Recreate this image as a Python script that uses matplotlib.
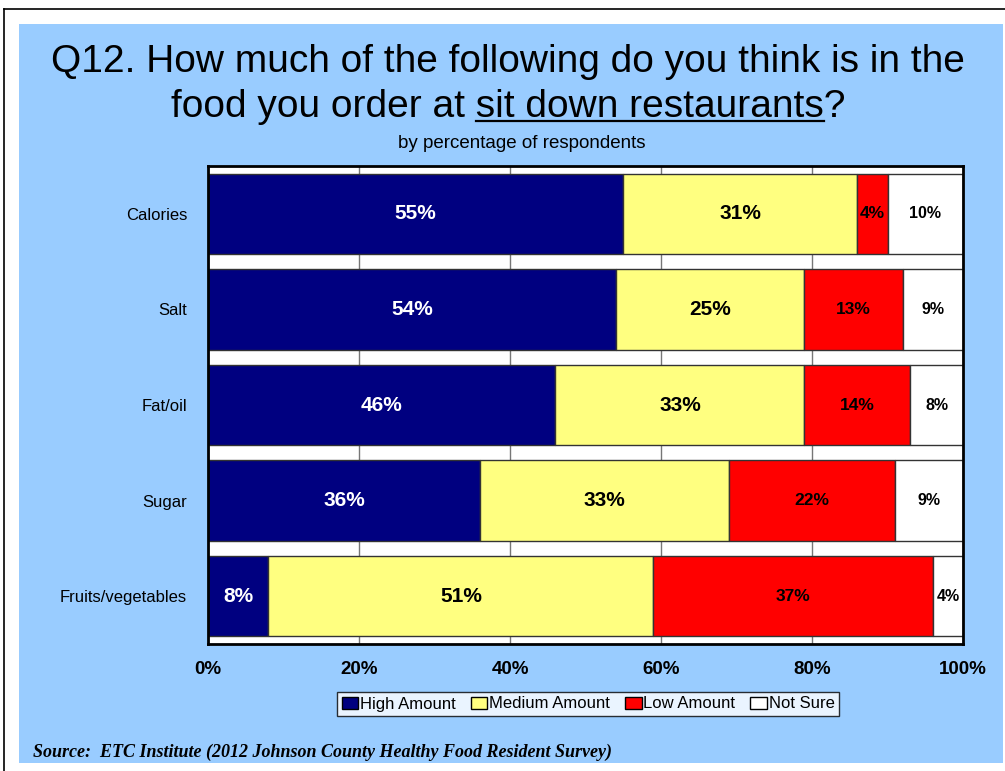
import matplotlib.pyplot as plt
from matplotlib.patches import Rectangle
from matplotlib.lines import Line2D

plt.rcParams["font.family"] = ["Liberation Sans", "DejaVu Sans"]

# Survey results (percent of respondents)
categories = ["Calories", "Salt", "Fat/oil", "Sugar", "Fruits/vegetables"]
series_names = ["High Amount", "Medium Amount", "Low Amount", "Not Sure"]
high = [55, 54, 46, 36, 8]
medium = [31, 25, 33, 33, 51]
low = [4, 13, 14, 22, 37]
not_sure = [10, 9, 8, 9, 4]
x_ticks = [0, 20, 40, 60, 80, 100]
x_tick_labels = ["0%", "20%", "40%", "60%", "80%", "100%"]

colors = ["#000080", "#FFFF80", "#FF0000", "#FFFFFF"]
label_colors = ["white", "black", "black", "black"]
label_sizes = [15, 15, 12.5, 11.5]

W, H = 1005, 771
fig = plt.figure(figsize=(W / 100, H / 100), dpi=100)
fig.patch.set_facecolor("white")


def fx(px):
    return px / W


def fy(py):
    return 1 - py / H


# outer frame and blue panel
fig.add_artist(Line2D([fx(4), 1], [fy(9), fy(9)], color="black", lw=1.2))
fig.add_artist(Line2D([fx(4), fx(4)], [fy(9), 0], color="black", lw=1.2))
fig.add_artist(Rectangle((fx(19), fy(763)), fx(1003) - fx(19), fy(24) - fy(763),
                         facecolor="#99CCFF", edgecolor="none", zorder=0))

ax = fig.add_axes([fx(208), fy(644), fx(963) - fx(208), fy(166) - fy(644)])
ax.set_facecolor("white")

ypos = list(range(len(categories)))
data = [high, medium, low, not_sure]
left = [0] * len(categories)
for name, vals, c, lc, fs in zip(series_names, data, colors, label_colors, label_sizes):
    ax.barh(ypos, vals, left=left, height=0.84, color=c, edgecolor="#333333",
            linewidth=1.0, label=name, zorder=2)
    for y, v, l0 in zip(ypos, vals, left):
        cx = min(l0 + v / 2, (l0 + 100) / 2)
        ax.text(cx, y, f"{v}%", ha="center", va="center", color=lc,
                fontsize=fs, fontweight="bold", zorder=3)
    left = [a + b for a, b in zip(left, vals)]

ax.set_xlim(0, 100)
ax.set_ylim(4.5, -0.5)
ax.set_xticks(x_ticks)
ax.set_xticklabels(x_tick_labels, fontsize=13.5, fontweight="bold")
ax.set_yticks(ypos)
ax.set_yticklabels(categories, fontsize=12)
ax.tick_params(axis="x", length=0, pad=12)
ax.tick_params(axis="y", length=0, pad=15)
ax.grid(axis="x", color="#777777", linewidth=1.0, zorder=1)
ax.set_axisbelow(True)
for s in ax.spines.values():
    s.set_linewidth(2.0)
    s.set_color("black")

# title, with the place underlined
title1 = "Q12. How much of the following do you think is in the"
title2 = "food you order at sit down restaurants?"
fig.text(fx(508), fy(72), title1, ha="center", va="baseline", fontsize=28)
t2 = fig.text(fx(508), fy(117), title2, ha="center", va="baseline", fontsize=28)

renderer = fig.canvas.get_renderer()
bb = t2.get_window_extent(renderer)
probe = fig.text(0, 0, "food you order at sit down restaurants", fontsize=28)
w1 = probe.get_window_extent(renderer).width
probe.set_text("sit down restaurants")
w2 = probe.get_window_extent(renderer).width
probe.remove()
ul_x0 = (bb.x0 + w1 - w2) / W
ul_x1 = (bb.x0 + w1) / W
fig.add_artist(Line2D([ul_x0, ul_x1], [fy(121), fy(121)], color="black", lw=1.6))

fig.text(fx(522), fy(143), "by percentage of respondents", ha="center", va="center",
         fontsize=13.5)

leg = fig.legend(loc="center", bbox_to_anchor=(fx(588), fy(704)), ncol=4,
                 fontsize=12, frameon=True, fancybox=False, handlelength=1.0,
                 handleheight=0.7, handletextpad=0.1, columnspacing=0.9,
                 borderpad=0.25, borderaxespad=0)
leg.get_frame().set_edgecolor("black")
leg.get_frame().set_linewidth(1.0)
for h in leg.legend_handles:
    h.set_edgecolor("black")

fig.text(fx(33), fy(752), "Source:  ETC Institute (2012 Johnson County Healthy Food Resident Survey)",
         ha="left", va="center", fontsize=13, family="Liberation Serif",
         fontweight="bold", fontstyle="italic")

fig.savefig("out.png", dpi=100)
